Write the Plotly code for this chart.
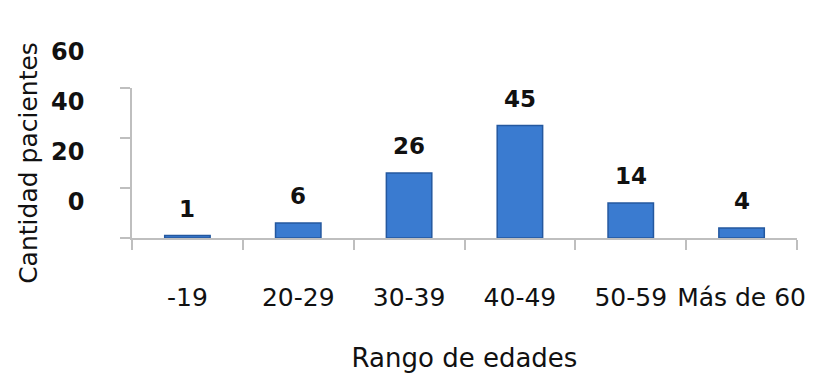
import plotly.graph_objects as go

categories = ["-19", "20-29", "30-39", "40-49", "50-59", "Más de 60"]
values = [1, 6, 26, 45, 14, 4]
y_tick_vals = [0, 20, 40, 60]
y_tick_text = ["0", "20", "40", "60"]
x_title = "Rango de edades"
y_title = "Cantidad pacientes"

fig = go.Figure()
fig.add_trace(go.Bar(
    x=categories, y=values, width=0.41,
    marker=dict(color="#3a7bd0", line=dict(color="#24589f", width=1.5)),
    hoverinfo="x+y",
))

for i, v in enumerate(values):
    fig.add_annotation(x=i, y=v, text=str(v), showarrow=False,
                       yanchor="middle", yshift=27,
                       font=dict(family="DejaVu Sans", size=23, color="#111111", weight="bold"))

fig.update_layout(
    width=838, height=376,
    margin=dict(l=132, r=41, t=88, b=138),
    paper_bgcolor="white", plot_bgcolor="white",
    showlegend=False,
    font=dict(family="DejaVu Sans", color="#111111"),
    xaxis=dict(
        type="category", categoryorder="array", categoryarray=categories,
        range=[-0.5, len(categories) - 0.5], automargin=False, tickangle=0,
        showgrid=False, showline=True, linecolor="#bfbfbf", linewidth=1.5,
        ticks="outside", tickson="boundaries", ticklen=10, tickcolor="#bfbfbf", tickwidth=1.5,
        tickfont=dict(family="DejaVu Sans", size=25, color="#111111"),
        ticklabelstandoff=36,
        title=dict(text=x_title, font=dict(family="DejaVu Sans", size=26, color="#111111"), standoff=38),
    ),
    yaxis=dict(
        range=[0, 60], automargin=False, showgrid=False, zeroline=False,
        showline=True, linecolor="#bfbfbf", linewidth=1.5,
        tickvals=y_tick_vals, ticktext=y_tick_text,
        ticks="outside", ticklen=10, tickcolor="#bfbfbf", tickwidth=1.5,
        tickfont=dict(family="DejaVu Sans", size=24, color="#111111", weight="bold"),
        ticklabelstandoff=31, ticklabelshift=-36,
        title=dict(text=y_title, font=dict(family="DejaVu Sans", size=25, color="#111111"), standoff=6),
    ),
)

fig.write_html("out.html")
